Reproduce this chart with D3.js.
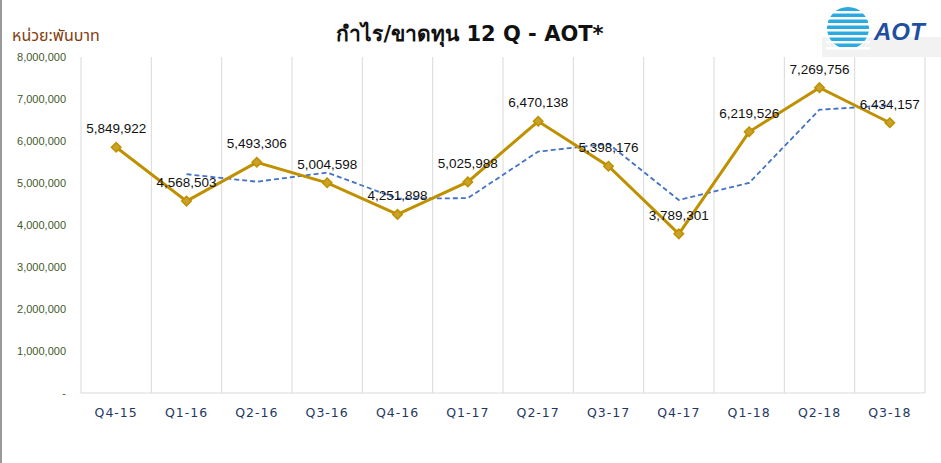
<!DOCTYPE html><html><head><meta charset="utf-8"><script src="https://cdn.jsdelivr.net/npm/d3@7"></script>
<style>body{margin:0;background:#fff}svg{display:block}</style></head><body><svg id="c" width="941" height="463"></svg>
<script>
const categories=["Q4-15","Q1-16","Q2-16","Q3-16","Q4-16","Q1-17","Q2-17","Q3-17","Q4-17","Q1-18","Q2-18","Q3-18"];
const profit=[5849922,4568503,5493306,5004598,4251898,5025988,6470138,5398176,3789301,6219526,7269756,6434157];
const trend=[null,5209000,5031000,5249000,4628000,4639000,5748000,5934000,4594000,5004000,6745000,6852000];
const yTicks=[0,1000000,2000000,3000000,4000000,5000000,6000000,7000000,8000000];
const svg=d3.select("#c");
svg.append("line").attr("x1",1).attr("x2",1).attr("y1",0).attr("y2",463).attr("stroke","#9a9a9a").attr("stroke-width",2);
const x=d3.scaleBand().domain(categories).range([81,925]);
const y=d3.scaleLinear().domain([0,8000000]).range([393,57]);
const g=svg.append("g");
categories.forEach((c,i)=>{g.append("line").attr("x1",x(c)).attr("x2",x(c)).attr("y1",57).attr("y2",393).attr("stroke","#d9d9d9");});
g.append("line").attr("x1",x.range()[1]).attr("x2",x.range()[1]).attr("y1",57).attr("y2",393).attr("stroke","#d9d9d9");
g.append("line").attr("x1",81).attr("x2",925).attr("y1",393).attr("y2",393).attr("stroke","#d9d9d9");
yTicks.forEach(t=>{svg.append("text").attr("x",66).attr("y",y(t)+4).attr("text-anchor","end").attr("font-family","Liberation Sans, Arial").attr("font-size",11).attr("fill","#3f5a2a").text(t===0?"-":d3.format(",")(t));});
categories.forEach(c=>{svg.append("text").attr("x",x(c)+x.bandwidth()/2).attr("y",417).attr("text-anchor","middle").attr("font-family","DejaVu Sans").attr("font-size",12.5).attr("letter-spacing",1).attr("fill","#1f3864").text(c);});
const cx=c=>x(c)+x.bandwidth()/2;
const td=categories.map((c,i)=>[c,trend[i]]).filter(d=>d[1]!=null);
svg.append("path").attr("d",d3.line().x(d=>cx(d[0])).y(d=>y(d[1]))(td)).attr("fill","none").attr("stroke","#4472c4").attr("stroke-width",1.8).attr("stroke-dasharray","5,3");
const pd=categories.map((c,i)=>[c,profit[i]]);
svg.append("path").attr("d",d3.line().x(d=>cx(d[0])).y(d=>y(d[1]))(pd)).attr("fill","none").attr("stroke","#bf9000").attr("stroke-width",3);
pd.forEach(d=>{svg.append("path").attr("transform",`translate(${cx(d[0])},${y(d[1])}) rotate(45)`).attr("d",d3.symbol(d3.symbolSquare,45)).attr("fill","#c9a227").attr("stroke","#bf9000").attr("stroke-width",1.5);
svg.append("text").attr("x",cx(d[0])).attr("y",y(d[1])-14).attr("text-anchor","middle").attr("font-family","Liberation Sans, Arial").attr("font-size",13.5).attr("fill","#111").text(d3.format(",")(d[1]));});
svg.append("text").attr("x",12).attr("y",41).attr("font-family","Noto Sans Thai, DejaVu Sans, Noto Sans").attr("font-size",16).attr("fill","#843c0c").text("หน่วย:พันบาท");
svg.append("text").attr("x",470).attr("y",41).attr("text-anchor","middle").attr("font-family","DejaVu Sans, Noto Sans").attr("font-weight","bold").attr("font-size",21).attr("fill","#111").text("กำไร/ขาดทุน 12 Q - AOT*");
const lg=svg.append("g");
lg.append("rect").attr("x",822).attr("y",37).attr("width",119).attr("height",20).attr("fill","#f2f2f2");
lg.append("circle").attr("cx",848).attr("cy",28).attr("r",21).attr("fill","#29abe2");
for(let i=0;i<7;i++)lg.append("rect").attr("x",826).attr("y",11+i*6).attr("width",44).attr("height",2.5).attr("fill","#fff");
lg.append("text").attr("x",874).attr("y",40).attr("font-family","Liberation Sans, Arial").attr("font-weight","bold").attr("font-style","italic").attr("font-size",24).attr("fill","#1f4fa0").text("AOT");
</script></body></html>
